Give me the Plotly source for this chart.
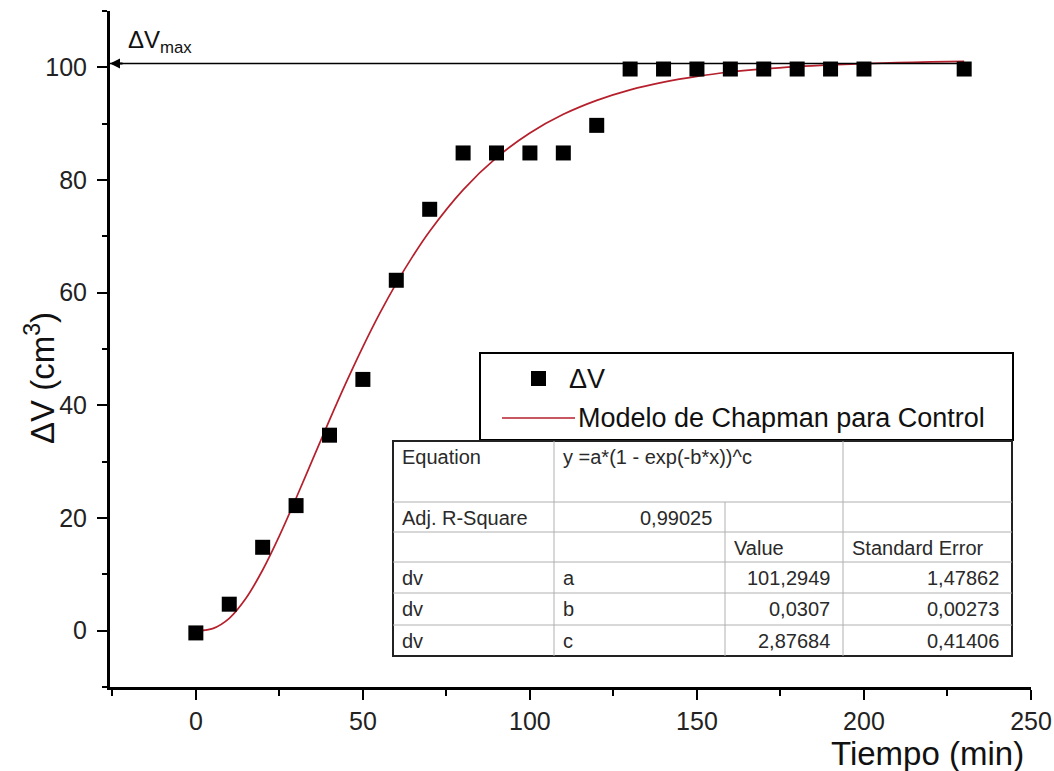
import plotly.graph_objects as go

# Measured volume change over time
tiempo = [0, 10, 20, 30, 40, 50, 60, 70, 80, 90, 100, 110, 120,
          130, 140, 150, 160, 170, 180, 190, 200, 230]
delta_v = [-0.4, 4.7, 14.8, 22.2, 34.7, 44.6, 62.2, 74.8, 84.8, 84.8, 84.8, 84.8, 89.7,
           99.7, 99.7, 99.7, 99.7, 99.7, 99.7, 99.7, 99.7, 99.7]

# Chapman model curve
modelo_x = [0, 5, 10, 15, 20, 25, 30, 35, 40, 45, 50, 55, 60, 65, 70, 80, 90, 100,
            110, 120, 130, 140, 150, 160, 170, 180, 190, 200, 210, 220, 230]
modelo_y = [0.0, 0.37, 2.2, 5.75, 10.77, 16.83, 23.51, 30.45, 37.37, 44.06, 50.38,
            56.27, 61.66, 66.53, 70.91, 78.25, 83.97, 88.35, 91.66, 94.14, 96.01,
            97.38, 98.41, 99.17, 99.73, 100.14, 100.44, 100.67, 100.83, 100.96, 101.05]

# Plateau reference line
dv_max = 100.7
dv_max_end = 230

x_range = [-25.7, 250]
y_range = [-10, 110]
x_ticks = [0, 50, 100, 150, 200, 250]
y_ticks = [0, 20, 40, 60, 80, 100]

# Fit results table
tabla = [
    ["Equation", "y =a*(1 - exp(-b*x))^c", "", ""],
    ["Adj. R-Square", "0,99025", "", ""],
    ["", "", "Value", "Standard Error"],
    ["dv", "a", "101,2949", "1,47862"],
    ["dv", "b", "0,0307", "0,00273"],
    ["dv", "c", "2,87684", "0,41406"],
]

W, H = 1054, 771
ML, MR, MT, MB = 110, 23, 11, 84
PW, PH = W - ML - MR, H - MT - MB


def fx(p):
    return (p - ML) / PW


def fy(p):
    return (H - MB - p) / PH


FONT = "Liberation Sans, Arial"

fig = go.Figure()

fig.add_trace(go.Scatter(
    x=modelo_x, y=modelo_y, mode="lines",
    line=dict(color="#B5202C", width=1.7, shape="spline"),
    name="Modelo de Chapman para Control", showlegend=False,
))
fig.add_trace(go.Scatter(
    x=[x_range[0], dv_max_end], y=[dv_max, dv_max], mode="lines",
    line=dict(color="black", width=1.5), showlegend=False, hoverinfo="skip",
))
fig.add_trace(go.Scatter(
    x=tiempo, y=delta_v, mode="markers",
    marker=dict(symbol="square", size=15, color="black"),
    name="ΔV", showlegend=False,
))

shapes = []
annotations = []

# Legend box
shapes.append(dict(type="rect", xref="paper", yref="paper",
                   x0=fx(480), x1=fx(1013), y0=fy(440), y1=fy(353),
                   line=dict(color="black", width=2), fillcolor="white", layer="above"))
shapes.append(dict(type="rect", xref="paper", yref="paper",
                   x0=fx(531), x1=fx(546), y0=fy(386), y1=fy(371),
                   line=dict(width=0), fillcolor="black", layer="above"))
shapes.append(dict(type="line", xref="paper", yref="paper",
                   x0=fx(502), x1=fx(575), y0=fy(418), y1=fy(418),
                   line=dict(color="#B5202C", width=1.7), layer="above"))
annotations.append(dict(xref="paper", yref="paper", x=fx(567), y=fy(379),
                        text="ΔV", showarrow=False, xanchor="left", yanchor="middle",
                        font=dict(family=FONT, size=27, color="#111")))
annotations.append(dict(xref="paper", yref="paper", x=fx(576), y=fy(418),
                        text="Modelo de Chapman para Control", showarrow=False,
                        xanchor="left", yanchor="middle",
                        font=dict(family=FONT, size=27, color="#111")))

# Results table
cols = [393, 554, 725, 843, 1012]
rows = [441, 502, 532, 562, 593, 625, 656]
shapes.append(dict(type="rect", xref="paper", yref="paper",
                   x0=fx(cols[0]), x1=fx(cols[-1]), y0=fy(rows[-1]), y1=fy(rows[0]),
                   line=dict(color="#222", width=2), fillcolor="white", layer="above"))
grid = dict(color="#B0B0B0", width=1)
for r in rows[1:-1]:
    shapes.append(dict(type="line", xref="paper", yref="paper",
                       x0=fx(cols[0]), x1=fx(cols[-1]), y0=fy(r), y1=fy(r),
                       line=grid, layer="above"))
for i, c in enumerate(cols[1:-1], start=1):
    top = rows[1] if i == 2 else rows[0]
    shapes.append(dict(type="line", xref="paper", yref="paper",
                       x0=fx(c), x1=fx(c), y0=fy(rows[-1]), y1=fy(top),
                       line=grid, layer="above"))

right_aligned = {(1, 1), (3, 2), (3, 3), (4, 2), (4, 3), (5, 2), (5, 3)}
for ri, fila in enumerate(tabla):
    yc = rows[ri] + 15.5
    for ci, txt in enumerate(fila):
        if not txt:
            continue
        if (ri, ci) in right_aligned:
            xpos, anchor = cols[ci + 1] - 11, "right"
        else:
            xpos, anchor = cols[ci] + 7, "left"
        annotations.append(dict(xref="paper", yref="paper", x=fx(xpos), y=fy(yc),
                                text=txt, showarrow=False, xanchor=anchor,
                                yanchor="middle",
                                font=dict(family=FONT, size=20, color="#2a2a2a")))

# Plateau label and arrow
annotations.append(dict(x=x_range[0], y=dv_max, xref="x", yref="y", text="",
                        showarrow=True, ax=14, ay=0, arrowhead=2, arrowsize=1,
                        arrowwidth=2, arrowcolor="black"))
annotations.append(dict(x=-21, y=104.5, xref="x", yref="y",
                        text="ΔV<sub>max</sub>", showarrow=False,
                        xanchor="left", yanchor="middle",
                        font=dict(family=FONT, size=24, color="#111")))

# Axis titles
annotations.append(dict(xref="paper", yref="paper", x=fx(1026), y=fy(753),
                        text="Tiempo (min)", showarrow=False, xanchor="right",
                        yanchor="middle",
                        font=dict(family=FONT, size=33, color="#111")))
annotations.append(dict(xref="paper", yref="paper", x=fx(40), y=fy(378),
                        text="ΔV (cm<sup>3</sup>)", showarrow=False, textangle=-90,
                        xanchor="center", yanchor="middle",
                        font=dict(family=FONT, size=33, color="#111")))

axis_common = dict(
    showline=True, linecolor="black", linewidth=3, mirror=False, automargin=False,
    showgrid=False, zeroline=False, ticks="outside", ticklen=10, tickwidth=2,
    tickcolor="black",
    tickfont=dict(family=FONT, size=25, color="#222"),
)

fig.update_layout(
    width=W, height=H,
    margin=dict(l=ML, r=MR, t=MT, b=MB, autoexpand=False),
    paper_bgcolor="white", plot_bgcolor="white",
    showlegend=False,
    xaxis=dict(range=x_range, tickvals=x_ticks, ticklabelstandoff=0,
               minor=dict(dtick=25, tick0=0, ticks="outside", ticklen=6,
                          tickwidth=2, tickcolor="black"),
               **axis_common),
    yaxis=dict(range=y_range, tickvals=y_ticks, ticklabelstandoff=5,
               minor=dict(dtick=10, tick0=0, ticks="outside", ticklen=5,
                          tickwidth=2, tickcolor="black"),
               **axis_common),
    shapes=shapes,
    annotations=annotations,
)

fig.write_html("out.html")
